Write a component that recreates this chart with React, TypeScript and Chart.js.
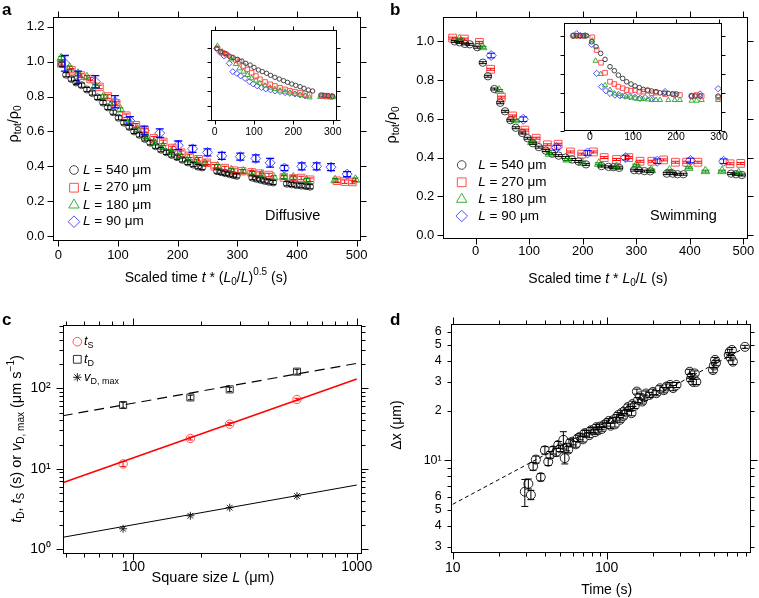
import React, { useEffect, useRef } from 'react';
import { Chart, registerables } from 'chart.js';

Chart.register(...registerables);

const FONT = '"Liberation Sans", Arial, Helvetica, sans-serif';
Chart.defaults.font.family = FONT;

// ---------------- Panel a (diffusive), main ----------------
const aBlackT = [6, 13, 22, 30, 39, 48, 57, 66, 75, 83, 92, 101, 110, 119, 127, 136, 145, 154, 163, 172, 181, 190, 199, 208, 217, 226, 234, 241, 266, 273, 280, 287, 293, 299, 325, 332, 339, 346, 353, 360, 383, 391, 399, 407, 415, 422];
const aBlackR = [0.985, 0.925, 0.9, 0.88, 0.865, 0.84, 0.82, 0.795, 0.765, 0.738, 0.71, 0.678, 0.65, 0.625, 0.6, 0.58, 0.557, 0.535, 0.515, 0.495, 0.48, 0.465, 0.452, 0.437, 0.422, 0.41, 0.398, 0.393, 0.372, 0.366, 0.36, 0.355, 0.35, 0.345, 0.335, 0.328, 0.322, 0.316, 0.311, 0.307, 0.3, 0.296, 0.292, 0.289, 0.286, 0.283];
const aRedT = [5, 22, 38, 54, 69, 83, 97, 114, 130, 145, 160, 176, 191, 206, 220, 235, 249, 262, 279, 294, 308, 324, 338, 353, 378, 394, 407, 422, 467, 480, 493];
const aRedR = [0.99, 0.95, 0.92, 0.9, 0.855, 0.8, 0.76, 0.69, 0.635, 0.605, 0.56, 0.54, 0.505, 0.478, 0.46, 0.44, 0.42, 0.4, 0.39, 0.375, 0.372, 0.365, 0.358, 0.35, 0.336, 0.33, 0.333, 0.323, 0.317, 0.312, 0.31];
const aGreenT = [5, 19, 33, 48, 62, 76, 90, 104, 118, 133, 147, 161, 175, 189, 204, 218, 232, 246, 267, 290, 310, 325, 341, 361, 378, 394, 416, 464, 498];
const aGreenR = [1.02, 0.965, 0.93, 0.91, 0.86, 0.8, 0.76, 0.725, 0.655, 0.61, 0.57, 0.535, 0.51, 0.48, 0.46, 0.44, 0.43, 0.415, 0.4, 0.378, 0.37, 0.36, 0.35, 0.336, 0.34, 0.336, 0.32, 0.32, 0.323];
const aBlueT = [11, 33, 62, 95, 120, 144, 170, 201, 225, 250, 274, 305, 331, 355, 379, 408, 433, 457, 484];
const aBlueR = [0.99, 0.91, 0.885, 0.77, 0.66, 0.605, 0.59, 0.52, 0.5, 0.48, 0.46, 0.455, 0.445, 0.42, 0.39, 0.4, 0.4, 0.395, 0.355];
const aBlueE = [0.045, 0.035, 0.035, 0.035, 0.025, 0.025, 0.025, 0.025, 0.02, 0.02, 0.02, 0.02, 0.02, 0.025, 0.015, 0.02, 0.02, 0.02, 0.015];

// ---------------- Panel a inset ----------------
const iaBlackT = [5, 15, 26, 37, 47, 58, 69, 79, 90, 100, 111, 121, 132, 142, 153, 164, 175, 185, 196, 206, 217, 227, 238, 249, 270, 280, 290, 300];
const iaBlackR = [0.99, 0.945, 0.922, 0.885, 0.862, 0.839, 0.816, 0.784, 0.761, 0.728, 0.692, 0.669, 0.646, 0.618, 0.59, 0.567, 0.544, 0.521, 0.498, 0.479, 0.461, 0.438, 0.415, 0.401, 0.345, 0.34, 0.335, 0.33];
const iaRedT = [7, 19, 30, 42, 54, 63, 73, 83, 94, 105, 115, 128, 141, 153, 166, 179, 191, 204, 217, 230, 241, 272, 284, 296];
const iaRedR = [0.99, 0.932, 0.904, 0.867, 0.83, 0.806, 0.747, 0.701, 0.655, 0.609, 0.563, 0.526, 0.494, 0.471, 0.447, 0.424, 0.406, 0.392, 0.378, 0.36, 0.346, 0.33, 0.325, 0.32];
const iaGreenT = [7, 19, 30, 42, 54, 63, 73, 83, 94, 105, 115, 128, 141, 153, 166, 179, 191, 204, 217, 230, 241, 268, 280, 292, 302];
const iaGreenR = [1.024, 0.945, 0.913, 0.839, 0.775, 0.715, 0.669, 0.622, 0.576, 0.544, 0.507, 0.475, 0.447, 0.429, 0.406, 0.392, 0.378, 0.36, 0.346, 0.332, 0.313, 0.32, 0.318, 0.315, 0.315];
const iaBlueT = [5, 14, 24, 37, 46, 56, 66, 77, 88, 98, 108, 119, 130, 142, 153, 166, 179, 191, 204, 217, 230, 275, 287, 298];
const iaBlueR = [0.99, 0.932, 0.885, 0.784, 0.669, 0.646, 0.609, 0.576, 0.531, 0.498, 0.471, 0.447, 0.429, 0.415, 0.401, 0.392, 0.378, 0.369, 0.36, 0.346, 0.332, 0.34, 0.335, 0.33];

// ---------------- Panel b (swimming), main ----------------
const bBlackT = [-39, -30, -20, -11, 3, 13.5, 23, 35, 46, 55, 65, 75, 87, 97, 107, 118, 131, 143, 155, 168, 180, 192, 206, 235, 248, 257, 268, 296, 305, 315, 326, 357, 368, 377, 388, 477, 486, 497];
const bBlackR = [1.0, 0.995, 0.987, 0.985, 0.97, 0.89, 0.82, 0.754, 0.683, 0.639, 0.593, 0.554, 0.527, 0.5, 0.474, 0.454, 0.436, 0.42, 0.41, 0.4, 0.39, 0.38, 0.365, 0.356, 0.352, 0.35, 0.347, 0.335, 0.334, 0.33, 0.329, 0.317, 0.317, 0.314, 0.314, 0.317, 0.314, 0.31];
const bRedT = [-43, -21, 7, 28, 48, 69, 92, 113, 134, 154, 177, 198, 220, 240, 263, 286, 307, 329, 351, 373, 394, 415, 475, 495];
const bRedR = [1.017, 1.012, 0.995, 0.856, 0.712, 0.615, 0.542, 0.5, 0.466, 0.469, 0.429, 0.418, 0.429, 0.4, 0.39, 0.4, 0.381, 0.381, 0.388, 0.376, 0.376, 0.376, 0.368, 0.37];
const bGreenT = [-30, 13, 44, 74, 105, 138, 171, 199, 230, 263, 300, 328, 362, 398, 429, 460, 491];
const bGreenR = [1.012, 0.97, 0.746, 0.593, 0.48, 0.42, 0.39, 0.373, 0.368, 0.352, 0.361, 0.335, 0.334, 0.347, 0.33, 0.33, 0.32];
const bBlueT = [29, 89, 151, 209, 280, 339, 401, 463];
const bBlueR = [0.927, 0.598, 0.452, 0.424, 0.4, 0.381, 0.385, 0.381];

// ---------------- Panel b inset ----------------
const ibBlackT = [-38.8, -31, -23.3, -15.5, -7.75, 3.9, 13.95, 24.8, 35, 46.5, 56.6, 65.9, 76, 85.3, 95.3, 104.7, 114.7, 124, 134, 143.4, 153.5, 162.8, 172.9, 182.2, 192.2, 201.5, 236.4, 244, 255.8, 298];
const ibBlackR = [1, 1, 1, 1, 1, 0.937, 0.885, 0.815, 0.752, 0.675, 0.633, 0.587, 0.552, 0.517, 0.493, 0.472, 0.455, 0.437, 0.43, 0.42, 0.413, 0.4, 0.398, 0.395, 0.388, 0.388, 0.367, 0.367, 0.367, 0.367];
const ibRedT = [-38.8, -27, -15.5, 5.4, 15.5, 25.6, 34.9, 46.5, 56.6, 65.9, 76, 85.3, 95.3, 104.7, 114.7, 124, 134, 143.4, 153.5, 174.4, 193.8, 209, 236.4, 248, 259.7, 298];
const ibRedR = [1.0, 1.0, 1.0, 0.983, 0.85, 0.717, 0.612, 0.518, 0.493, 0.465, 0.448, 0.43, 0.423, 0.43, 0.413, 0.413, 0.423, 0.395, 0.403, 0.388, 0.388, 0.378, 0.367, 0.378, 0.367, 0.353];
const ibGreenT = [-35, -23, -12, 5.4, 13, 24.8, 35, 46.5, 56.6, 66, 76, 85.3, 95.3, 104.7, 114.7, 124, 134, 143.4, 153.5, 163, 182, 197, 209, 236.4, 248, 259.7, 298];
const ibGreenR = [1.0, 1.0, 1.0, 0.95, 0.737, 0.598, 0.48, 0.43, 0.395, 0.388, 0.367, 0.36, 0.353, 0.343, 0.336, 0.336, 0.332, 0.325, 0.325, 0.325, 0.325, 0.325, 0.325, 0.318, 0.318, 0.325, 0.325];
const ibBlueT = [-38.8, -31, -23, -11, 4, 15.5, 27, 37, 46.5, 58, 69.8, 81.4, 93, 104.7, 116.3, 128, 143.4, 174.4, 197, 236.4, 255.8, 298];
const ibBlueR = [1.0, 1.02, 1.0, 1.0, 0.91, 0.605, 0.465, 0.423, 0.395, 0.378, 0.371, 0.367, 0.36, 0.353, 0.343, 0.35, 0.343, 0.413, 0.378, 0.367, 0.388, 0.444];

// ---------------- Panel c ----------------
const cSize = [90, 180, 270, 540];
const cTS = [11.5, 23.8, 35.9, 72.6];
const cTSErr = [0.8, 1.0, 1.5, 2.5];
const cTD = [62, 77, 97, 161];
const cTDErr = [5, 5, 6, 11];
const cVD = [1.8, 2.61, 3.29, 4.59];
const cFitL = [48.3, 1000];
const cFitTS = [6.7, 130.5];
const cFitTD = [45.6, 204];
const cFitVD = [1.41, 6.29];

// ---------------- Panel d ----------------
const dTime = [29.4, 31, 32.2, 33.3, 34.7, 37.3, 39.7, 41.7, 43, 45,
  47, 48.5, 50, 52.3, 53.4, 55, 56.3, 58, 60.6, 63,
  65, 67.2, 70, 72, 74, 77, 79, 81.8, 84, 86,
  88, 90.1, 93, 96, 100, 103, 106, 110, 113, 116,
  119, 122, 125, 128, 131, 135, 138, 142, 145, 148,
  152, 157, 160, 165, 170, 175, 180, 190, 200, 210,
  222, 235, 245, 258, 270, 284, 346, 352, 358, 365,
  373, 382, 490, 497, 505, 512, 620, 630, 640, 650,
  660, 790];
const dDx = [6.45, 7.2, 6.17, 9.2, 10.1, 7.9, 11.5, 9.8, 10.8, 11.5,
  11.2, 12.4, 11.8, 13.3, 10.3, 12.0, 11.6, 12.8, 13.0, 12.5,
  13.6, 13.9, 13.4, 14.6, 14.6, 14.2, 15.2, 15.3, 14.8, 15.9,
  15.2, 16.0, 15.5, 16.4, 16.8, 17.3, 16.2, 17.5, 16.5, 18.2,
  18.8, 17.6, 19.4, 18.5, 20.0, 19.5, 21.1, 20.5, 19.3, 22.0,
  21.4, 26.1, 23.2, 24.4, 22.7, 24.0, 25.4, 24.9, 26.0, 25.5,
  27.3, 26.6, 28.0, 28.6, 27.4, 28.6, 34.4, 31.1, 32.5, 29.8,
  33.6, 29.9, 35.2, 37.5, 40.6, 38.8, 43.5, 45.5, 41.6, 46.6,
  39.6, 48.7];
const dErr = [1.2, 0.5, 0.4, 0.5, 0.5, 0.4, 0.6, 0.5, 0.5, 0.6,
  0.6, 0.6, 0.5, 1.6, 0.8, 0.6, 0.5, 0.6, 0.6, 0.5,
  0.6, 0.6, 0.5, 0.6, 0.6, 0.5, 0.6, 0.6, 0.5, 0.6,
  0.6, 0.6, 0.5, 0.6, 0.7, 0.6, 0.6, 0.7, 0.6, 0.7,
  0.7, 0.6, 0.7, 0.7, 0.8, 0.7, 0.8, 0.7, 0.7, 0.8,
  0.8, 0.9, 0.8, 0.9, 0.8, 0.9, 0.9, 0.9, 1.0, 0.9,
  1.0, 1.0, 1.0, 1.0, 1.0, 1.0, 1.2, 1.1, 1.1, 1.1,
  1.2, 1.1, 1.3, 1.3, 1.4, 1.4, 1.5, 1.5, 1.5, 1.6,
  1.5, 1.0];
const dFitT = [10, 800];
const dFitDx = [5.41, 48.4];

// ---------------- tick arrays ----------------
const abXTicks = [0, 100, 200, 300, 400, 500];
const aYTicks = [0, 0.2, 0.4, 0.6, 0.8, 1.0, 1.2];
const bYTicks = [0, 0.2, 0.4, 0.6, 0.8, 1.0];
const insetXTicks = [0, 100, 200, 300];
const insetYTicks = [0, 0.2, 0.4, 0.6, 0.8, 1.0];
const cXMajor = [100, 1000];
const cXMinor = [50, 60, 70, 80, 90, 200, 300, 400, 500, 600, 700, 800, 900];
const cYMajor = [1, 10, 100];
const cYMinor = [2, 3, 4, 5, 6, 7, 8, 9, 20, 30, 40, 50, 60, 70, 80, 90, 200, 300, 400, 500, 600];
const cYLabels: Record<number, string> = { 1: '10⁰', 10: '10¹', 100: '10²' };
const dXMajor = [10, 100];
const dXMinor = [20, 30, 40, 50, 60, 70, 80, 90, 200, 300, 400, 500, 600, 700, 800];
const dYLabeled = [3, 4, 5, 6, 10, 20, 30, 40, 50, 60];
const dYMajor = [10];
const dYMinor = [3, 4, 5, 6, 7, 8, 9, 20, 30, 40, 50, 60];

// ---------------- colours ----------------
const C_BLACK = '#444444';
const C_RED = '#ff5050';
const C_GREEN = '#3cae3c';
const C_BLUE = '#5050ff';
const E_BLACK = '#000000';
const E_RED = '#ff0000';
const E_GREEN = '#008a00';
const E_BLUE = '#0000ff';

// ---------------- helpers ----------------
type Seg = { t: string; sub?: boolean; sup?: boolean; it?: boolean };
type TextItem = { segs: Seg[]; x: number; y: number; size: number; align?: 'left' | 'center' | 'right'; rotate?: boolean; bold?: boolean; baseline?: CanvasTextBaseline };
type LegendItem = { style: string; color: string; r: number; x: number; y: number; tx: number; segs: Seg[]; size: number };
type Deco = { xMajor: number[]; xMinor?: number[]; yMajor: number[]; yMinor?: number[]; majorLen: number; minorLen?: number; texts?: TextItem[]; legend?: LegendItem[] };

function segFont(s: Seg, size: number, bold?: boolean) {
  const sz = s.sub || s.sup ? Math.round(size * 0.72) : size;
  return `${s.it ? 'italic ' : ''}${bold ? 'bold ' : ''}${sz}px ${FONT}`;
}

function drawRich(ctx: CanvasRenderingContext2D, it: TextItem) {
  ctx.save();
  ctx.translate(it.x, it.y);
  if (it.rotate) ctx.rotate(-Math.PI / 2);
  ctx.fillStyle = '#000';
  ctx.textBaseline = it.baseline || 'middle';
  ctx.textAlign = 'left';
  let w = 0;
  for (const s of it.segs) {
    ctx.font = segFont(s, it.size, it.bold);
    w += ctx.measureText(s.t).width;
  }
  const align = it.align || 'center';
  let cx = align === 'center' ? -w / 2 : align === 'right' ? -w : 0;
  for (const s of it.segs) {
    ctx.font = segFont(s, it.size, it.bold);
    const dy = s.sub ? it.size * 0.3 : s.sup ? -it.size * 0.38 : 0;
    ctx.fillText(s.t, cx, dy);
    cx += ctx.measureText(s.t).width;
  }
  ctx.restore();
}

function drawMarker(ctx: CanvasRenderingContext2D, style: string, x: number, y: number, r: number, color: string) {
  ctx.save();
  ctx.strokeStyle = color;
  ctx.lineWidth = 1;
  ctx.beginPath();
  if (style === 'circle') {
    ctx.arc(x, y, r, 0, Math.PI * 2);
  } else if (style === 'rect') {
    const h = r * Math.SQRT1_2;
    ctx.rect(x - h, y - h, 2 * h, 2 * h);
  } else if (style === 'triangle') {
    for (let k = 0; k < 3; k++) {
      const a = (k * 2 * Math.PI) / 3;
      const px = x + Math.sin(a) * r;
      const py = y - Math.cos(a) * r;
      if (k === 0) ctx.moveTo(px, py);
      else ctx.lineTo(px, py);
    }
    ctx.closePath();
  } else if (style === 'rectRot') {
    ctx.moveTo(x - r, y);
    ctx.lineTo(x, y - r);
    ctx.lineTo(x + r, y);
    ctx.lineTo(x, y + r);
    ctx.closePath();
  } else if (style === 'star') {
    for (let k = 0; k < 4; k++) {
      const a = (k * Math.PI) / 4;
      ctx.moveTo(x - Math.cos(a) * r, y - Math.sin(a) * r);
      ctx.lineTo(x + Math.cos(a) * r, y + Math.sin(a) * r);
    }
  }
  ctx.stroke();
  ctx.restore();
}

function makePlugin(deco: Deco) {
  return {
    id: 'decor',
    afterDatasetsDraw(chart: any) {
      const ctx: CanvasRenderingContext2D = chart.ctx;
      const xs = chart.scales.x;
      const ys = chart.scales.y;
      chart.data.datasets.forEach((ds: any) => {
        if (ds.errY === undefined) return;
        ctx.save();
        ctx.strokeStyle = ds.errColor || '#000';
        ctx.lineWidth = ds.errWidth || 1;
        const cw = (ds.capW || 6) / 2;
        ds.data.forEach((p: any, j: number) => {
          const e = Array.isArray(ds.errY) ? ds.errY[j] : ds.errY;
          if (!e) return;
          const px = xs.getPixelForValue(p.x);
          const y1 = ys.getPixelForValue(p.y - e);
          const y2 = ys.getPixelForValue(p.y + e);
          ctx.beginPath();
          ctx.moveTo(px, y1);
          ctx.lineTo(px, y2);
          ctx.moveTo(px - cw, y1);
          ctx.lineTo(px + cw, y1);
          ctx.moveTo(px - cw, y2);
          ctx.lineTo(px + cw, y2);
          ctx.stroke();
        });
        ctx.restore();
      });
    },
    afterDraw(chart: any) {
      const ctx: CanvasRenderingContext2D = chart.ctx;
      const { left, right, top, bottom } = chart.chartArea;
      const xs = chart.scales.x;
      const ys = chart.scales.y;
      ctx.save();
      ctx.strokeStyle = '#000';
      ctx.lineWidth = 1;
      const L = Math.round(left) + 0.5;
      const R = Math.round(right) - 0.5;
      const T = Math.round(top) + 0.5;
      const B = Math.round(bottom) - 0.5;
      ctx.strokeRect(L, T, R - L, B - T);
      const drawX = (vals: number[] | undefined, len: number) => {
        (vals || []).forEach((v) => {
          const px = Math.round(xs.getPixelForValue(v)) + 0.5;
          ctx.beginPath();
          ctx.moveTo(px, B);
          ctx.lineTo(px, B + len);
          ctx.moveTo(px, T);
          ctx.lineTo(px, T - len);
          ctx.stroke();
        });
      };
      const drawY = (vals: number[] | undefined, len: number) => {
        (vals || []).forEach((v) => {
          const py = Math.round(ys.getPixelForValue(v)) + 0.5;
          ctx.beginPath();
          ctx.moveTo(L - len, py);
          ctx.lineTo(L, py);
          ctx.moveTo(R, py);
          ctx.lineTo(R + len, py);
          ctx.stroke();
        });
      };
      drawX(deco.xMajor, deco.majorLen);
      drawX(deco.xMinor, deco.minorLen || 0);
      drawY(deco.yMajor, deco.majorLen);
      drawY(deco.yMinor, deco.minorLen || 0);
      ctx.restore();
      (deco.texts || []).forEach((t) => drawRich(ctx, t));
      (deco.legend || []).forEach((l) => {
        drawMarker(ctx, l.style, l.x, l.y, l.r, l.color);
        drawRich(ctx, { segs: l.segs, x: l.tx, y: l.y, size: l.size, align: 'left' });
      });
    },
  };
}

function pts(xs: number[], ys: number[]) {
  return xs.map((x, i) => ({ x, y: ys[i] }));
}

function sc(label: string, xs: number[], ys: number[], style: string, color: string, r: number, extra: any = {}) {
  return {
    type: 'scatter',
    label,
    data: pts(xs, ys),
    pointStyle: style,
    pointRadius: r,
    pointHoverRadius: r,
    pointBorderColor: color,
    pointBackgroundColor: 'rgba(0,0,0,0)',
    pointBorderWidth: 1,
    showLine: false,
    ...extra,
  };
}

function fitLine(label: string, xs: number[], ys: number[], color: string, width: number, dash: number[]) {
  return {
    type: 'line',
    label,
    data: pts(xs, ys),
    borderColor: color,
    borderWidth: width,
    borderDash: dash,
    pointRadius: 0,
    fill: false,
    tension: 0,
    showLine: true,
  };
}

type AxisSpec = { type: 'linear' | 'logarithmic'; min: number; max: number; ticks: number[]; label?: (v: number) => string; size?: number; pad?: number };

function axis(spec: AxisSpec, pos: 'x' | 'y', extent: number) {
  return {
    type: spec.type,
    position: pos === 'x' ? 'bottom' : 'left',
    min: spec.min,
    max: spec.max,
    afterFit: (s: any) => {
      if (pos === 'x') s.height = extent;
      else s.width = extent;
    },
    afterBuildTicks: (s: any) => {
      s.ticks = spec.ticks.map((v) => ({ value: v }));
    },
    grid: { display: false, drawTicks: false },
    border: { display: false },
    ticks: {
      display: !!spec.label,
      color: '#000',
      font: { family: FONT, size: spec.size ?? 13 },
      padding: spec.pad ?? 4,
      maxRotation: 0,
      minRotation: 0,
      autoSkip: false,
      callback: (v: any) => (spec.label ? spec.label(Number(v)) : ''),
    },
  };
}

type Area = { l: number; t: number; r: number; b: number };

function cfg(datasets: any[], xs: AxisSpec, ys: AxisSpec, area: Area, deco: Deco): any {
  return {
    type: 'scatter',
    data: { datasets },
    options: {
      responsive: false,
      animation: false,
      events: [],
      layout: { autoPadding: false, padding: { left: 0, top: area.t, right: area.r, bottom: 0 } },
      plugins: { legend: { display: false }, tooltip: { enabled: false } },
      scales: { x: axis(xs, 'x', area.b), y: axis(ys, 'y', area.l) },
    },
    plugins: [makePlugin(deco)],
  };
}

const S = (t: string, o: Partial<Seg> = {}): Seg => ({ t, ...o });
const rhoTitle: Seg[] = [S('ρ'), S('tot', { sub: true }), S('/ρ'), S('0', { sub: true })];
const legendL = (v: string): Seg[] => [S('L', { it: true }), S(` = ${v} μm`)];

// ---------------- chart configs ----------------
function configA() {
  const ds = [
    sc('L = 540 μm', aBlackT, aBlackR, 'circle', C_BLACK, 3.5, { errY: 0.012, errColor: E_BLACK, capW: 6 }),
    sc('L = 270 μm', aRedT, aRedR, 'rect', C_RED, 5.3, { errY: 0.01, errColor: E_RED, capW: 6 }),
    sc('L = 180 μm', aGreenT, aGreenR, 'triangle', C_GREEN, 5, { errY: 0.01, errColor: E_GREEN, capW: 6 }),
    sc('L = 90 μm', aBlueT, aBlueR, 'rectRot', C_BLUE, 5, { errY: aBlueE, errColor: E_BLUE, capW: 8, errWidth: 1.3 }),
  ];
  const rows = [170, 187.7, 205, 221.7];
  return cfg(
    ds,
    { type: 'linear', min: -8.4, max: 507.3, ticks: abXTicks, label: (v) => String(v), size: 13, pad: 6.5 },
    { type: 'linear', min: -0.0265, max: 1.2586, ticks: aYTicks, label: (v) => v.toFixed(1), size: 13, pad: 8.7 },
    { l: 53.3, t: 14, r: 19, b: 59.3 },
    {
      xMajor: abXTicks, yMajor: aYTicks, majorLen: 6,
      texts: [
        { segs: [S('a')], x: 2, y: 15, size: 17, bold: true, align: 'left', baseline: 'alphabetic' },
        { segs: rhoTitle, x: 14, y: 124, size: 14.5, rotate: true },
        { segs: [S('Scaled time '), S('t', { it: true }), S(' * ('), S('L', { it: true }), S('0', { sub: true }), S('/'), S('L', { it: true }), S(')'), S('0.5', { sup: true }), S(' (s)')], x: 206, y: 278, size: 14 },
        { segs: [S('Diffusive')], x: 265, y: 216, size: 14.5, align: 'left' },
      ],
      legend: [
        { style: 'circle', color: C_BLACK, r: 4.3, x: 74, y: rows[0], tx: 83, segs: legendL('540'), size: 13.5 },
        { style: 'rect', color: C_RED, r: 6.2, x: 74, y: rows[1], tx: 83, segs: legendL('270'), size: 13.5 },
        { style: 'triangle', color: C_GREEN, r: 6, x: 74, y: rows[2], tx: 83, segs: legendL('180'), size: 13.5 },
        { style: 'rectRot', color: C_BLUE, r: 5.8, x: 74, y: rows[3], tx: 83, segs: legendL('90'), size: 13.5 },
      ],
    }
  );
}

function configAInset() {
  const ds = [
    sc('540', iaBlackT, iaBlackR, 'circle', C_BLACK, 2.2),
    sc('270', iaRedT, iaRedR, 'rect', C_RED, 3.2),
    sc('180', iaGreenT, iaGreenR, 'triangle', C_GREEN, 3),
    sc('90', iaBlueT, iaBlueR, 'rectRot', C_BLUE, 3),
  ];
  return cfg(
    ds,
    { type: 'linear', min: -10.7, max: 310.9, ticks: insetXTicks, label: (v) => String(v), size: 10.5, pad: 4.5 },
    { type: 'linear', min: -0.014, max: 1.245, ticks: insetYTicks },
    { l: 20.5, t: 15, r: 18, b: 29 },
    { xMajor: insetXTicks, yMajor: insetYTicks, majorLen: 4 }
  );
}

function configB() {
  const ds = [
    sc('L = 540 μm', bBlackT, bBlackR, 'circle', C_BLACK, 3.7, { errY: 0.005, errColor: E_BLACK, capW: 8 }),
    sc('L = 270 μm', bRedT, bRedR, 'rect', C_RED, 5.5, { errY: 0.005, errColor: E_RED, capW: 8 }),
    sc('L = 180 μm', bGreenT, bGreenR, 'triangle', C_GREEN, 5, { errY: 0.005, errColor: E_GREEN, capW: 8 }),
    sc('L = 90 μm', bBlueT, bBlueR, 'rectRot', C_BLUE, 5, { errY: 0.012, errColor: E_BLUE, capW: 8 }),
  ];
  const rows = [165, 182.3, 199.3, 216];
  return cfg(
    ds,
    { type: 'linear', min: -60.35, max: 508, ticks: abXTicks, label: (v) => String(v), size: 13, pad: 4.6 },
    { type: 'linear', min: -0.022, max: 1.127, ticks: bYTicks, label: (v) => v.toFixed(1), size: 13, pad: 9 },
    { l: 63.3, t: 13.3, r: 8, b: 60.7 },
    {
      xMajor: abXTicks, yMajor: bYTicks, majorLen: 6,
      texts: [
        { segs: [S('b')], x: 10, y: 15, size: 17, bold: true, align: 'left', baseline: 'alphabetic' },
        { segs: rhoTitle, x: 12, y: 125, size: 14.5, rotate: true },
        { segs: [S('Scaled time '), S('t', { it: true }), S(' * '), S('L', { it: true }), S('0', { sub: true }), S('/'), S('L', { it: true }), S(' (s)')], x: 218, y: 279, size: 14 },
        { segs: [S('Swimming')], x: 270, y: 216, size: 14.5, align: 'left' },
      ],
      legend: [
        { style: 'circle', color: C_BLACK, r: 4.3, x: 81.7, y: rows[0], tx: 98.3, segs: legendL('540'), size: 13.5 },
        { style: 'rect', color: C_RED, r: 6.2, x: 81.7, y: rows[1], tx: 98.3, segs: legendL('270'), size: 13.5 },
        { style: 'triangle', color: C_GREEN, r: 6, x: 81.7, y: rows[2], tx: 98.3, segs: legendL('180'), size: 13.5 },
        { style: 'rectRot', color: C_BLUE, r: 5.8, x: 81.7, y: rows[3], tx: 98.3, segs: legendL('90'), size: 13.5 },
      ],
    }
  );
}

function configBInset() {
  const ds = [
    sc('540', ibBlackT, ibBlackR, 'circle', C_BLACK, 2.3),
    sc('270', ibRedT, ibRedR, 'rect', C_RED, 3.3),
    sc('180', ibGreenT, ibGreenR, 'triangle', C_GREEN, 3),
    sc('90', ibBlueT, ibBlueR, 'rectRot', C_BLUE, 3.2),
  ];
  return cfg(
    ds,
    { type: 'linear', min: -60.5, max: 307.7, ticks: insetXTicks, label: (v) => String(v), size: 10.5, pad: 0 },
    { type: 'linear', min: 0, max: 1.137, ticks: insetYTicks },
    { l: 19, t: 14.7, r: 22.7, b: 17 },
    { xMajor: insetXTicks, yMajor: insetYTicks, majorLen: 4 }
  );
}

function configC() {
  const ds = [
    fitLine('fit tD', cFitL, cFitTD, '#000', 1.2, [10, 6]),
    fitLine('fit tS', cFitL, cFitTS, '#ff0000', 1.5, []),
    fitLine('fit vD', cFitL, cFitVD, '#000', 1, []),
    sc('tS', cSize, cTS, 'circle', C_RED, 4.2, { errY: cTSErr, errColor: E_RED, capW: 5 }),
    sc('tD', cSize, cTD, 'rect', '#333333', 5, { errY: cTDErr, errColor: E_BLACK, capW: 5 }),
    sc('vD,max', cSize, cVD, 'star', '#222222', 4),
  ];
  return cfg(
    ds,
    { type: 'logarithmic', min: 48.3, max: 1052, ticks: cXMajor, label: (v) => String(v), size: 14, pad: 4.3 },
    { type: 'logarithmic', min: 0.875, max: 611, ticks: cYMajor, label: (v) => cYLabels[v] || '', size: 14, pad: 12 },
    { l: 62.7, t: 25, r: 18.3, b: 44 },
    {
      xMajor: cXMajor, xMinor: cXMinor, yMajor: cYMajor, yMinor: cYMinor, majorLen: 7, minorLen: 4,
      texts: [
        { segs: [S('c')], x: 2, y: 25, size: 17, bold: true, align: 'left', baseline: 'alphabetic' },
        { segs: [S('t', { it: true }), S('D', { sub: true }), S(', '), S('t', { it: true }), S('S', { sub: true }), S(' (s) or '), S('v', { it: true }), S('D, max', { sub: true }), S(' (μm s'), S('−1', { sup: true }), S(')')], x: 17, y: 139, size: 14.5, rotate: true },
        { segs: [S('Square size '), S('L', { it: true }), S(' (μm)')], x: 213, y: 278, size: 14.5 },
      ],
      legend: [
        { style: 'circle', color: C_RED, r: 4.3, x: 77.3, y: 41.7, tx: 84, segs: [S('t', { it: true }), S('S', { sub: true })], size: 13 },
        { style: 'rect', color: '#333333', r: 5.5, x: 77.3, y: 59.3, tx: 84, segs: [S('t', { it: true }), S('D', { sub: true })], size: 13 },
        { style: 'star', color: '#222222', r: 4.2, x: 77.3, y: 77.3, tx: 84, segs: [S('v', { it: true }), S('D, max', { sub: true })], size: 13 },
      ],
    }
  );
}

function configD() {
  const ds = [
    fitLine('fit', dFitT, dFitDx, '#000', 1, [4, 3]),
    sc('Δx', dTime, dDx, 'circle', '#222222', 4.5, { errY: dErr, errColor: E_BLACK, capW: 7, pointBackgroundColor: '#ffffff' }),
  ];
  return cfg(
    ds,
    { type: 'logarithmic', min: 9.75, max: 865, ticks: dXMajor, label: (v) => String(v), size: 14, pad: 6.6 },
    { type: 'logarithmic', min: 2.73, max: 66.7, ticks: dYLabeled, label: (v) => (v === 10 ? '10¹' : v >= 20 ? String(v / 10) : String(v)), size: 12.5, pad: 9.3 },
    { l: 71, t: 24.3, r: 8, b: 44.7 },
    {
      xMajor: dXMajor, xMinor: dXMinor, yMajor: dYMajor, yMinor: dYMinor, majorLen: 7, minorLen: 4,
      texts: [
        { segs: [S('d')], x: 10, y: 25, size: 17, bold: true, align: 'left', baseline: 'alphabetic' },
        { segs: [S('Δx (μm)')], x: 17, y: 125, size: 14, rotate: true },
        { segs: [S('Time (s)')], x: 226.7, y: 290, size: 14 },
      ],
    }
  );
}

function ChartBox({ left, top, w, h, make }: { left: number; top: number; w: number; h: number; make: () => any }) {
  const ref = useRef<HTMLCanvasElement>(null);
  useEffect(() => {
    const chart = new Chart(ref.current as HTMLCanvasElement, make());
    return () => chart.destroy();
  }, []);
  return <canvas ref={ref} width={w} height={h} style={{ position: 'absolute', left, top, width: w, height: h }} />;
}

export default function App() {
  return (
    <div style={{ position: 'absolute', left: 0, top: 0, width: 759, height: 598, overflow: 'hidden', background: '#ffffff' }}>
      <ChartBox left={0} top={0} w={380} h={300} make={configA} />
      <ChartBox left={380} top={0} w={379} h={300} make={configB} />
      <ChartBox left={0} top={300} w={380} h={298} make={configC} />
      <ChartBox left={380} top={300} w={379} h={298} make={configD} />
      <ChartBox left={190} top={15} w={165} h={135} make={configAInset} />
      <ChartBox left={545} top={8} w={200} h={140} make={configBInset} />
    </div>
  );
}
